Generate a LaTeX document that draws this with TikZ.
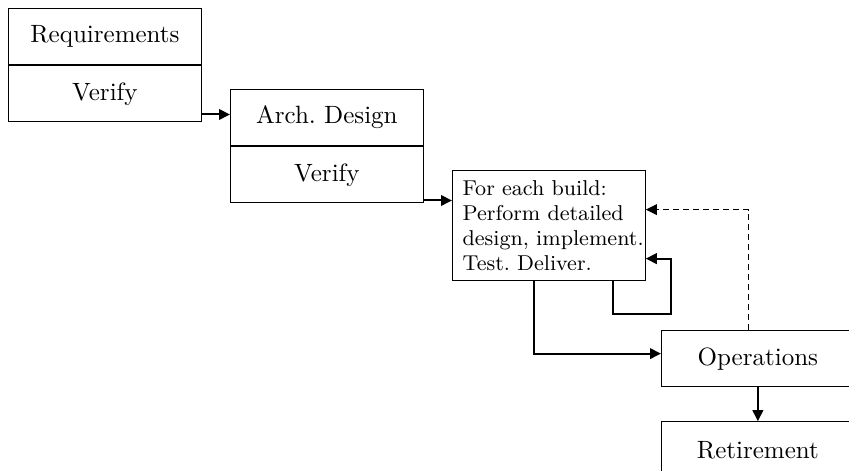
\documentclass[tikz,border=0pt]{standalone}
\usetikzlibrary{positioning,arrows.meta}

\begin{document}
\frenchspacing
\begin{tikzpicture}[
    x=0.4pt, y=-0.4pt,
    stage/.style={
        draw,
        line width=0.5pt,
        minimum width=77pt,
        minimum height=22.4pt,
        inner sep=0pt
    },
    flow/.style={
        line width=0.8pt,
        -{Triangle[length=4.4pt,width=4.2pt]}
    }
]
\useasboundingbox (0,0) rectangle (849,471);

% waterfall stages
\node[stage, anchor=north west] (req) at (8,8) {Requirements};
\node[stage, below=0pt of req] (reqverify) {Verify};

\node[stage, anchor=north west] (arch) at (230,89) {Arch. Design};
\node[stage, below=0pt of arch] (archverify) {Verify};

\node[
    stage,
    anchor=north west,
    minimum height=44pt,
    text width=69pt,
    inner xsep=4pt,
    align=left,
    font=\fontsize{8.6}{10}\selectfont
] (build) at (452,170) {
    For each build:\\
    Perform detailed\\
    \mbox{design, implement.}\\
    Test. Deliver.
};

\node[stage, anchor=north west] (ops) at (661,330) {Operations};
\node[stage, below=13.6pt of ops] (retire) {Retirement};

% hand-offs
\coordinate (reqout) at ([yshift=3.2pt]reqverify.south east);
\draw[flow] (reqout) -- (reqout -| arch.west);

\coordinate (archout) at ([yshift=1.2pt]archverify.south east);
\draw[flow] (archout) -- (archout -| build.west);

% iterate builds
\draw[flow] ([xshift=25.5pt]build.south) -- ++(0,-13.2pt)
    -| ([xshift=10pt,yshift=-13.2pt]build.east) -- ([yshift=-13.2pt]build.east);

\draw[flow] ([xshift=-6.1pt]build.south) |- ([yshift=2pt]ops.west);

% feedback from operations
\draw[flow, line width=0.5pt, dash pattern=on 2.4pt off 1.6pt]
    ([xshift=-3.7pt]ops.north) |- ([yshift=6.4pt]build.east);

\draw[flow] (ops) -- (retire);
\end{tikzpicture}
\end{document}
